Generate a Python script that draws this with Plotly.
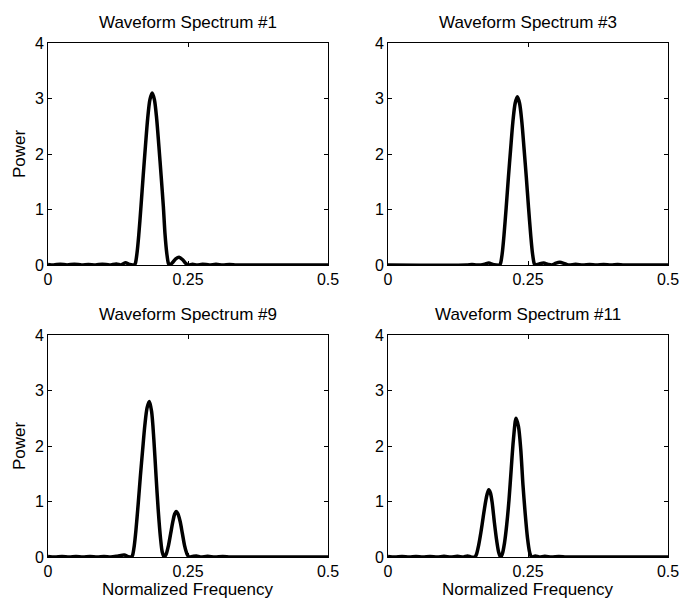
import plotly.graph_objects as go

# ---------------- data ----------------
x_ticks = [0, 0.25, 0.5]
x_tick_labels = ["0", "0.25", "0.5"]
y_ticks = [0, 1, 2, 3, 4]
y_tick_labels = ["0", "1", "2", "3", "4"]

titles = ["Waveform Spectrum #1", "Waveform Spectrum #3",
          "Waveform Spectrum #9", "Waveform Spectrum #11"]

f1 = [0.000, 0.010, 0.022, 0.034, 0.047, 0.060, 0.072, 0.085, 0.097, 0.110,
      0.122, 0.130, 0.138, 0.146, 0.151, 0.154, 0.156, 0.159, 0.162, 0.166,
      0.170, 0.174, 0.178, 0.182, 0.186, 0.190, 0.194, 0.198, 0.202, 0.206,
      0.209, 0.212, 0.215, 0.217, 0.222, 0.228, 0.234, 0.240, 0.246, 0.251,
      0.258, 0.266, 0.276, 0.288, 0.300, 0.312, 0.324, 0.336, 0.350, 0.500]
p1 = [0.01, 0.0, 0.015, 0.0, 0.015, 0.0, 0.01, 0.0, 0.015, 0.0,
      0.02, 0.0, 0.04, 0.01, 0.0, 0.0, 0.03, 0.22, 0.53, 1.05,
      1.61, 2.14, 2.64, 2.98, 3.10, 2.98, 2.64, 2.14, 1.61, 1.05,
      0.55, 0.22, 0.03, 0.0, 0.04, 0.11, 0.14, 0.10, 0.03, 0.0,
      0.015, 0.0, 0.015, 0.0, 0.012, 0.0, 0.01, 0.0, 0.0, 0.0]

f3 = [0.000, 0.140, 0.150, 0.158, 0.166, 0.173, 0.180, 0.187, 0.193, 0.199,
      0.201, 0.204, 0.207, 0.211, 0.215, 0.219, 0.223, 0.227, 0.231, 0.235,
      0.239, 0.243, 0.247, 0.251, 0.255, 0.258, 0.261, 0.263, 0.270, 0.278,
      0.286, 0.293, 0.300, 0.307, 0.314, 0.322, 0.335, 0.348, 0.360, 0.372,
      0.385, 0.398, 0.410, 0.422, 0.500]
p3 = [0.0, 0.0, 0.01, 0.0, 0.0, 0.015, 0.035, 0.01, 0.0, 0.0,
      0.03, 0.21, 0.52, 1.03, 1.58, 2.09, 2.58, 2.91, 3.03, 2.91,
      2.58, 2.09, 1.58, 1.03, 0.52, 0.21, 0.03, 0.0, 0.02, 0.035,
      0.01, 0.0, 0.035, 0.05, 0.03, 0.0, 0.012, 0.0, 0.01, 0.0,
      0.01, 0.0, 0.008, 0.0, 0.0]

f9 = [0.000, 0.012, 0.025, 0.038, 0.050, 0.062, 0.075, 0.088, 0.100, 0.112,
      0.124, 0.136, 0.144, 0.149, 0.151, 0.154, 0.157, 0.161, 0.165, 0.169,
      0.173, 0.177, 0.181, 0.185, 0.189, 0.193, 0.197, 0.201, 0.204, 0.2075,
      0.211, 0.215, 0.219, 0.223, 0.226, 0.229, 0.232, 0.236, 0.240, 0.244,
      0.248, 0.252, 0.258, 0.265, 0.272, 0.285, 0.298, 0.312, 0.325, 0.340,
      0.500]
p9 = [0.01, 0.0, 0.01, 0.0, 0.01, 0.0, 0.01, 0.0, 0.01, 0.0,
      0.015, 0.035, 0.005, 0.0, 0.03, 0.20, 0.48, 0.95, 1.46, 1.93,
      2.38, 2.69, 2.80, 2.62, 2.12, 1.45, 0.82, 0.33, 0.09, 0.0,
      0.05, 0.20, 0.42, 0.64, 0.77, 0.82, 0.78, 0.64, 0.42, 0.20,
      0.06, 0.0, 0.01, 0.02, 0.0, 0.012, 0.0, 0.01, 0.0, 0.0,
      0.0]

f11 = [0.000, 0.012, 0.025, 0.038, 0.050, 0.062, 0.075, 0.088, 0.100, 0.112,
       0.124, 0.135, 0.142, 0.148, 0.155, 0.158, 0.162, 0.166, 0.170, 0.174,
       0.177, 0.180, 0.183, 0.186, 0.190, 0.194, 0.198, 0.201, 0.204, 0.208,
       0.212, 0.216, 0.220, 0.224, 0.2286, 0.233, 0.237, 0.241, 0.245, 0.249,
       0.253, 0.2566, 0.263, 0.270, 0.280, 0.292, 0.305, 0.318, 0.330, 0.500]
p11 = [0.01, 0.0, 0.01, 0.0, 0.01, 0.0, 0.01, 0.0, 0.012, 0.0,
       0.012, 0.0, 0.02, 0.0, 0.0, 0.05, 0.22, 0.45, 0.72, 0.98,
       1.13, 1.21, 1.15, 0.98, 0.62, 0.30, 0.07, 0.0, 0.05, 0.25,
       0.58, 1.02, 1.58, 2.12, 2.50, 2.35, 1.95, 1.30, 0.78, 0.35,
       0.08, 0.0, 0.02, 0.0, 0.012, 0.0, 0.01, 0.0, 0.0, 0.0]

series = [(f1, p1), (f3, p3), (f9, p9), (f11, p11)]

# ---------------- layout ----------------
W, H = 681, 602
FONT = "Liberation Sans, Arial, Helvetica, sans-serif"

# pixel boxes of the four axes: (left, right, top, bottom)
boxes = [(48, 328, 43, 265), (388, 668, 43, 265),
         (48, 328, 335, 557), (388, 668, 335, 557)]

fig = go.Figure()
layout = dict(
    template="none",
    width=W, height=H,
    margin=dict(l=0, r=0, t=0, b=0, pad=0),
    paper_bgcolor="white", plot_bgcolor="white",
    showlegend=False,
    font=dict(family=FONT, color="black"),
    annotations=[],
)

for i, ((fx, py), (l, r, t, b)) in enumerate(zip(series, boxes)):
    n = "" if i == 0 else str(i + 1)
    fig.add_trace(go.Scatter(
        x=fx, y=py, mode="lines",
        line=dict(color="black", width=3.5, shape="spline", smoothing=0.8),
        xaxis="x" + n, yaxis="y" + n, hoverinfo="skip",
    ))
    common = dict(
        showline=True, linecolor="black", linewidth=1, mirror="ticks",
        ticks="inside", ticklen=4, tickcolor="black", tickwidth=1,
        showgrid=False, zeroline=False, automargin=False,
        tickfont=dict(family=FONT, size=16, color="black"),
    )
    layout["xaxis" + n] = dict(
        common, range=[0, 0.5], tickvals=x_ticks, ticktext=x_tick_labels,
        domain=[l / W, r / W], anchor="y" + n,
    )
    layout["yaxis" + n] = dict(
        common, range=[0, 4], tickvals=y_ticks, ticktext=y_tick_labels,
        domain=[1 - b / H, 1 - t / H], anchor="x" + n,
    )
    # subplot title
    layout["annotations"].append(dict(
        text=titles[i], xref="paper", yref="paper",
        x=(l + r) / 2 / W, y=1 - (t - 21) / H,
        xanchor="center", yanchor="middle", showarrow=False,
        font=dict(family=FONT, size=17, color="black"),
    ))
    if i % 2 == 0:
        layout["annotations"].append(dict(
            text="Power", xref="paper", yref="paper",
            x=19 / W, y=1 - (t + b) / 2 / H, textangle=-90,
            xanchor="center", yanchor="middle", showarrow=False,
            font=dict(family=FONT, size=17, color="black"),
        ))
    if i >= 2:
        layout["annotations"].append(dict(
            text="Normalized Frequency", xref="paper", yref="paper",
            x=(l + r) / 2 / W, y=1 - 601 / H,
            xanchor="center", yanchor="bottom", showarrow=False,
            font=dict(family=FONT, size=17, color="black"),
        ))

fig.update_layout(**layout)
fig.write_html("out.html")
